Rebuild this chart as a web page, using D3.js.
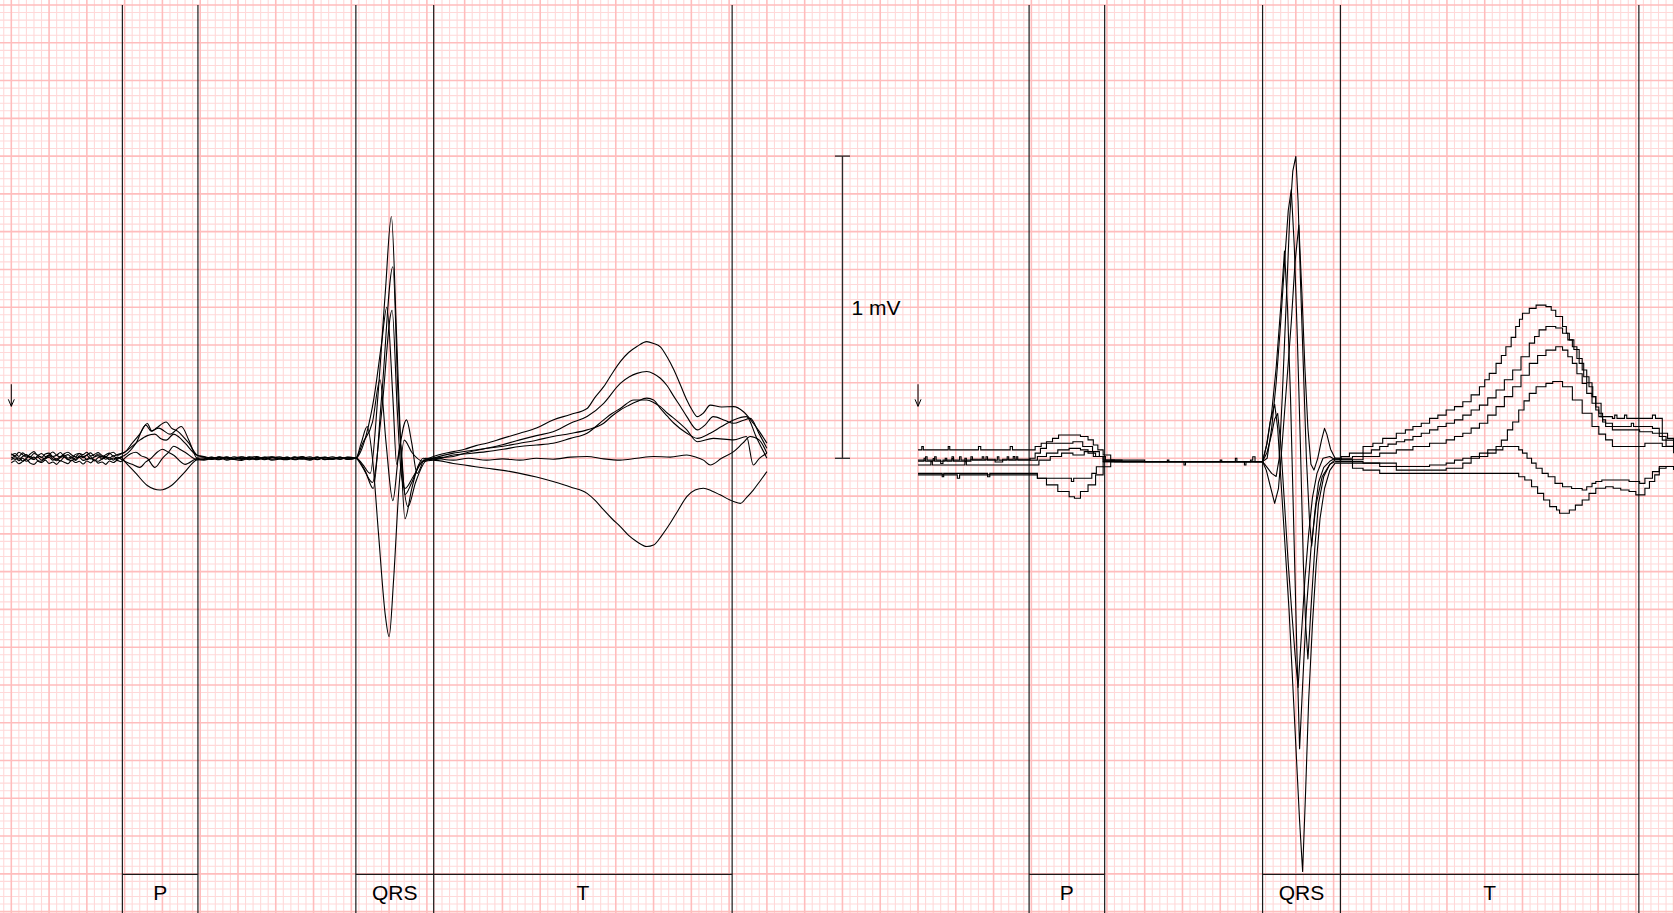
<!DOCTYPE html>
<html>
<head>
<meta charset="utf-8">
<script src="https://cdn.jsdelivr.net/npm/d3@7/dist/d3.min.js"></script>
<style>
  html, body { margin: 0; padding: 0; background: #fff; overflow: hidden; }
</style>
</head>
<body>
<div id="chart"></div>
<script>
// median beats, two panels on ecg paper (10 ms / 0.025 mV per small box)
const width = 1674, height = 913;

const panelShift = [0, 1200];          // ms where each panel starts on the paper
const waveLabels = ['P', 'QRS', 'T'];
const waveStart = [147, 456, 559];     // ms
const waveEnd = [247, 559, 954];
const calibAt = 1100;                  // ms, 1 mV bar
const calibMv = [0, 1];
const markerMv = [0.245, 0.172];       // small arrow above each panel start
const rightQrsSpan = [456, 552];       // fast part of the right recording, drawn straight

// left panel: [ms, mV]
const leftA = [[0,0.01],[5,0.016],[10,0.006],[15,0.018],[20,0.008],[25,0.004],[30,0.016],[35,0.01],[40,0.003],[45,0.014],[50,0.017],[55,0.006],[60,0.01],[65,0.019],[70,0.008],[75,0.012],[80,0.002],[85,0.013],[90,0.016],[95,0.006],[100,0.011],[105,0.018],[110,0.007],[115,0.014],[120,0.004],[125,0.012],[130,0.017],[135,0.008],[140,0.012],[145,0.016],
  [150,0.02],[160,0.05],[170,0.08],[180,0.115],[186,0.09],[192,0.1],[205,0.12],[212,0.1],[220,0.09],[228,0.07],[235,0.05],[246,0.01],
  [255,0.004],[265,-0.003],[275,0.005],[285,0.0],[295,-0.004],[305,0.004],[315,0.001],[325,-0.005],[335,0.003],[345,0.005],[355,-0.002],[365,-0.005],[375,0.003],[385,0.0],[395,0.005],[405,-0.004],[415,0.002],[425,-0.003],[435,0.004],[445,-0.002],[456,0.002],
  [465,-0.02],[475,-0.05],[485,0.2],[495,0.55],[503,0.8],[510,0.4],[516,0.0],[521,-0.2],[530,-0.1],[540,-0.02],[558,0.005],
  [585,0.022],[600,0.03],[615,0.042],[629,0.05],[650,0.066],[673,0.083],[695,0.1],[717,0.127],[740,0.145],[762,0.165],[772,0.2],[784,0.237],[795,0.28],[806,0.32],[817,0.35],[828,0.37],[841,0.386],[850,0.38],[859,0.369],[868,0.335],[877,0.292],[886,0.24],[894,0.193],[901,0.16],[908,0.138],[916,0.15],[925,0.176],[940,0.17],[956,0.171],[969,0.154],[982,0.116],[991,0.085],[1000,0.05]];
const leftB = [[0,-0.005],[5,0.002],[10,-0.008],[15,0.0],[20,-0.01],[25,-0.002],[30,0.004],[35,-0.007],[40,-0.01],[45,0.0],[50,0.003],[55,-0.006],[60,-0.002],[65,-0.009],[70,0.004],[75,-0.004],[80,-0.008],[85,0.002],[90,0.003],[95,-0.007],[100,-0.003],[105,0.005],[110,-0.006],[115,-0.01],[120,-0.002],[125,0.003],[130,-0.005],[135,0.001],[140,-0.004],[145,0.004],
  [150,0.01],[165,0.05],[178,0.11],[185,0.09],[195,0.1],[210,0.08],[225,0.105],[235,0.06],[246,0.0],
  [255,-0.004],[265,0.003],[275,-0.002],[285,0.005],[295,-0.003],[305,0.0],[315,-0.005],[325,0.003],[335,-0.002],[345,0.004],[355,0.0],[365,-0.004],[375,0.005],[385,-0.003],[395,0.002],[405,-0.005],[415,0.003],[425,0.0],[435,-0.004],[445,0.003],[456,0.0],
  [468,-0.04],[479,-0.1],[490,0.2],[505,0.634],[512,0.2],[518,-0.05],[525,-0.16],[535,-0.08],[548,-0.01],[558,0.0],
  [585,0.006],[605,0.02],[629,0.033],[650,0.045],[673,0.061],[695,0.075],[717,0.088],[740,0.116],[762,0.138],[784,0.182],[806,0.248],[818,0.27],[828,0.281],[841,0.287],[850,0.28],[859,0.265],[868,0.24],[877,0.204],[886,0.17],[894,0.138],[908,0.094],[918,0.11],[929,0.138],[945,0.125],[956,0.116],[968,0.125],[978,0.132],[990,0.08],[1000,0.033]];
const leftC = [[0,0.015],[5,0.008],[10,0.02],[15,0.012],[20,0.004],[25,0.014],[30,0.022],[35,0.01],[40,0.016],[45,0.006],[50,0.012],[55,0.021],[60,0.01],[65,0.004],[70,0.015],[75,0.02],[80,0.011],[85,0.005],[90,0.016],[95,0.012],[100,0.02],[105,0.008],[110,0.013],[115,0.019],[120,0.009],[125,0.005],[130,0.015],[135,0.02],[140,0.01],[145,0.014],
  [150,0.02],[160,0.04],[170,0.06],[180,0.075],[190,0.08],[198,0.065],[205,0.06],[215,0.08],[222,0.07],[230,0.05],[246,0.01],
  [255,0.006],[265,0.0],[275,0.004],[285,-0.003],[295,0.005],[305,-0.002],[315,0.003],[325,0.006],[335,-0.003],[345,0.002],[355,0.005],[365,-0.002],[375,0.001],[385,0.006],[395,-0.003],[405,0.003],[415,0.0],[425,0.005],[435,-0.002],[445,0.004],[456,0.0],
  [465,-0.03],[478,-0.08],[490,0.15],[504,0.49],[511,0.15],[516,-0.05],[521,-0.1],[532,-0.06],[545,-0.01],[558,0.0],
  [585,0.017],[607,0.025],[629,0.033],[651,0.04],[673,0.05],[695,0.06],[717,0.072],[740,0.082],[762,0.094],[784,0.116],[795,0.14],[806,0.16],[817,0.175],[828,0.188],[841,0.199],[850,0.193],[859,0.165],[868,0.14],[877,0.116],[894,0.083],[908,0.066],[925,0.083],[940,0.105],[956,0.127],[973,0.138],[986,0.07],[1000,0.0]];
const leftD = [[0,-0.015],[5,-0.008],[10,-0.018],[15,-0.011],[20,-0.004],[25,-0.016],[30,-0.02],[35,-0.01],[40,-0.014],[45,-0.006],[50,-0.017],[55,-0.012],[60,-0.02],[65,-0.008],[70,-0.013],[75,-0.018],[80,-0.006],[85,-0.014],[90,-0.01],[95,-0.019],[100,-0.009],[105,-0.015],[110,-0.005],[115,-0.016],[120,-0.012],[125,-0.02],[130,-0.009],[135,-0.014],[140,-0.007],[145,-0.011],
  [150,0.0],[158,0.015],[165,0.02],[172,0.008],[180,0.0],[190,-0.03],[200,0.0],[208,0.02],[215,0.04],[223,0.03],[230,0.02],[246,-0.005],
  [255,-0.006],[265,-0.001],[275,-0.005],[285,0.002],[295,-0.004],[305,-0.007],[315,0.0],[325,-0.004],[335,0.002],[345,-0.006],[355,-0.002],[365,0.003],[375,-0.005],[385,-0.001],[395,-0.006],[405,0.002],[415,-0.004],[425,-0.002],[435,0.003],[445,-0.004],[456,0.0],
  [462,0.02],[470,0.08],[480,0.2],[490,0.38],[497,0.5],[505,0.2],[510,-0.02],[515,0.05],[521,-0.12],[530,-0.08],[545,0.0],[558,-0.005],
  [585,0.011],[607,0.016],[629,0.022],[651,0.03],[673,0.039],[695,0.044],[717,0.05],[740,0.066],[762,0.083],[784,0.127],[795,0.148],[806,0.165],[824,0.193],[841,0.193],[850,0.185],[859,0.171],[868,0.15],[877,0.132],[894,0.094],[908,0.055],[929,0.066],[956,0.061],[973,0.072],[982,-0.022],[990,0.0],[1000,0.017]];
const leftE = [[0,0.005],[5,-0.004],[10,0.002],[15,-0.009],[20,0.0],[25,0.007],[30,-0.003],[35,0.004],[40,-0.006],[45,0.002],[50,0.008],[55,-0.002],[60,-0.008],[65,0.003],[70,0.006],[75,-0.005],[80,0.001],[85,-0.007],[90,0.004],[95,0.007],[100,-0.004],[105,0.0],[110,-0.009],[115,0.003],[120,0.006],[125,-0.003],[130,0.002],[135,-0.006],[140,0.004],[145,-0.002],
  [150,-0.01],[160,-0.02],[170,-0.03],[178,-0.012],[185,0.0],[193,0.02],[200,0.03],[208,0.02],[215,0.01],[230,-0.02],[246,0.0],
  [255,0.002],[265,-0.004],[275,0.003],[285,-0.006],[295,0.001],[305,0.005],[315,-0.003],[325,0.0],[335,-0.005],[345,0.003],[355,-0.001],[365,0.004],[375,-0.004],[385,0.002],[395,-0.002],[405,0.005],[415,-0.005],[425,0.001],[435,0.003],[445,-0.003],[456,0.0],
  [465,0.05],[478,0.12],[488,0.26],[496,0.05],[505,-0.14],[512,0.0],[523,0.127],[530,0.05],[537,-0.05],[548,0.0],[558,0.0],
  [585,-0.006],[605,0.0],[629,-0.006],[650,-0.002],[673,-0.006],[695,0.0],[717,-0.003],[740,0.004],[762,0.006],[784,-0.002],[806,-0.006],[828,0.0],[850,0.006],[872,0.004],[894,0.011],[906,0.004],[916,-0.006],[925,-0.022],[940,0.0],[956,0.022],[968,0.05],[978,0.072],[990,0.06],[1000,0.017]];
const leftF = [[0,0.0],[5,0.007],[10,-0.003],[15,0.006],[20,0.012],[25,0.001],[30,-0.004],[35,0.008],[40,0.003],[45,-0.002],[50,0.01],[55,0.004],[60,-0.003],[65,0.006],[70,0.011],[75,0.0],[80,0.005],[85,-0.004],[90,0.008],[95,0.002],[100,0.01],[105,-0.002],[110,0.004],[115,0.009],[120,-0.003],[125,0.006],[130,0.001],[135,0.008],[140,-0.001],[145,0.004],
  [150,-0.01],[165,-0.05],[180,-0.09],[197,-0.105],[212,-0.09],[228,-0.05],[246,-0.005],
  [255,-0.002],[265,0.004],[275,-0.004],[285,0.003],[295,0.0],[305,-0.004],[315,0.005],[325,-0.002],[335,0.004],[345,-0.003],[355,0.002],[365,0.0],[375,-0.003],[385,0.004],[395,-0.002],[405,0.001],[415,0.004],[425,-0.004],[435,0.002],[445,0.0],[456,0.0],
  [463,0.05],[471,0.105],[478,0.0],[486,-0.25],[495,-0.52],[500,-0.59],[506,-0.4],[513,-0.1],[520,0.06],[530,0.02],[545,-0.01],[558,-0.006],
  [585,-0.017],[607,-0.025],[629,-0.033],[651,-0.04],[673,-0.05],[695,-0.062],[717,-0.077],[740,-0.095],[762,-0.116],[773,-0.14],[784,-0.171],[795,-0.2],[806,-0.226],[817,-0.255],[828,-0.276],[841,-0.292],[850,-0.287],[861,-0.255],[872,-0.215],[883,-0.17],[894,-0.127],[905,-0.105],[916,-0.099],[927,-0.108],[938,-0.121],[956,-0.143],[965,-0.149],[973,-0.13],[982,-0.105],[991,-0.075],[1000,-0.044]];
const leftLeads = [leftA, leftB, leftC, leftD, leftE, leftF];

// right panel: quantised recording, [ms, mV]
const rightA = [[0,0.028],[5,0.039],[7,0.028],[40,0.039],[42,0.028],[80,0.039],[83,0.028],[122,0.039],[125,0.028],[148,0.028],[155,0.039],[163,0.05],[170,0.055],[178,0.066],[186,0.077],[215,0.072],[225,0.061],[232,0.044],[238,0.028],[245,0.011],[255,-0.006],[300,-0.011],
  [456,-0.011],[462,-0.03],[468,-0.05],[474,-0.06],[478,0.0],[482,0.2],[487,0.5],[492,0.8],[496,0.95],[500,0.999],[503,0.85],[506,0.6],[510,0.3],[514,0.0],[518,-0.2],[521,-0.29],[525,-0.18],[530,-0.08],[537,-0.03],[545,-0.01],[552,0.0],
  [560,0.006],[571,0.017],[589,0.039],[602,0.05],[615,0.066],[633,0.083],[645,0.094],[655,0.105],[666,0.116],[677,0.132],[688,0.143],[699,0.16],[710,0.171],[721,0.187],[732,0.21],[743,0.237],[750,0.26],[756,0.281],[765,0.314],[772,0.34],[778,0.369],[785,0.4],[791,0.436],[796,0.46],[800,0.48],[809,0.496],[818,0.507],[831,0.502],[838,0.49],[844,0.469],[853,0.436],[858,0.414],[862,0.392],[868,0.36],[875,0.314],[881,0.27],[888,0.237],[893,0.204],[897,0.182],[904,0.138],[919,0.132],[922,0.143],[925,0.132],[935,0.143],[938,0.132],[959,0.132],[972,0.143],[976,0.132],[985,0.083],[992,0.066],[1000,0.05]];
const rightB = [[0,-0.006],[10,0.005],[12,-0.006],[22,0.005],[24,-0.006],[30,-0.017],[33,-0.006],[45,0.005],[47,-0.006],[55,0.005],[57,-0.006],[70,0.005],[72,-0.006],[90,0.005],[92,-0.006],[105,0.005],[107,-0.006],[118,0.005],[120,-0.006],[130,0.005],[132,-0.006],[148,0.0],[155,0.017],[162,0.033],[170,0.05],[190,0.05],[205,0.055],[218,0.039],[231,0.022],[240,0.006],[248,-0.006],[270,-0.011],[330,-0.006],[332,-0.011],[400,-0.006],[402,-0.011],[420,0.0],[422,-0.011],[432,-0.022],[434,-0.011],[440,-0.006],[443,0.005],[446,-0.011],
  [456,-0.011],[462,0.0],[468,0.1],[474,0.25],[480,0.45],[486,0.68],[490,0.82],[494,0.889],[498,0.7],[502,0.4],[506,0.05],[510,-0.35],[513,-0.55],[516,-0.664],[520,-0.5],[525,-0.3],[530,-0.15],[537,-0.06],[545,-0.02],[552,-0.005],
  [560,0.0],[575,0.006],[589,0.017],[600,0.028],[611,0.039],[622,0.047],[633,0.055],[644,0.061],[655,0.072],[666,0.083],[677,0.094],[688,0.105],[699,0.116],[710,0.127],[721,0.143],[732,0.16],[743,0.176],[754,0.2],[765,0.226],[776,0.26],[787,0.292],[798,0.336],[809,0.381],[816,0.403],[822,0.425],[831,0.436],[844,0.431],[853,0.414],[860,0.392],[866,0.369],[872,0.33],[879,0.292],[885,0.25],[892,0.204],[897,0.17],[901,0.149],[906,0.127],[910,0.116],[919,0.105],[941,0.105],[944,0.116],[947,0.105],[959,0.105],[972,0.099],[981,0.072],[990,0.04],[1000,0.017]];
const rightC = [[0,-0.01],[8,0.0],[10,-0.01],[20,-0.001],[22,-0.01],[36,0.0],[38,-0.01],[45,-0.001],[47,-0.01],[62,0.0],[64,-0.01],[70,-0.003],[85,0.005],[87,-0.003],[100,-0.003],[102,-0.012],[112,-0.003],[126,0.006],[128,-0.003],[140,-0.003],[148,-0.006],[158,0.006],[170,0.017],[185,0.028],[200,0.033],[215,0.028],[225,0.017],[235,0.006],[245,-0.006],[260,-0.011],[350,-0.011],[352,-0.022],[354,-0.011],
  [456,-0.011],[461,-0.04],[466,-0.09],[472,-0.149],[477,-0.1],[482,0.05],[488,0.25],[494,0.45],[499,0.65],[504,0.772],[508,0.55],[512,0.3],[516,0.1],[520,-0.02],[524,-0.039],[529,0.0],[534,0.06],[538,0.099],[541,0.08],[546,0.03],[552,0.0],[558,-0.005],
  [560,-0.005],[589,0.006],[611,0.017],[633,0.028],[655,0.039],[677,0.05],[699,0.061],[710,0.072],[721,0.083],[732,0.1],[743,0.116],[754,0.143],[765,0.171],[776,0.204],[787,0.237],[798,0.275],[809,0.314],[820,0.34],[831,0.358],[844,0.369],[853,0.358],[860,0.336],[866,0.314],[872,0.28],[879,0.248],[885,0.215],[892,0.182],[897,0.16],[901,0.138],[906,0.12],[910,0.105],[919,0.094],[955,0.088],[972,0.083],[985,0.06],[1000,0.028]];
const rightD = [[0,-0.022],[15,-0.022],[17,-0.011],[19,-0.022],[60,-0.022],[62,-0.011],[64,-0.022],[148,-0.022],[160,-0.006],[175,0.006],[190,0.017],[205,0.011],[220,0.022],[232,0.006],[245,-0.011],[260,-0.011],
  [456,-0.011],[462,0.05],[468,0.15],[474,0.3],[480,0.5],[485,0.686],[489,0.5],[493,0.2],[497,-0.2],[501,-0.6],[505,-0.961],[509,-0.75],[514,-0.5],[520,-0.3],[527,-0.15],[535,-0.06],[545,-0.02],[552,-0.011],
  [560,-0.011],[589,-0.016],[633,-0.027],[677,-0.022],[699,-0.016],[710,-0.006],[721,0.0],[732,0.006],[743,0.017],[754,0.028],[765,0.039],[772,0.06],[780,0.094],[787,0.12],[795,0.16],[802,0.19],[809,0.215],[818,0.237],[831,0.248],[840,0.254],[853,0.237],[866,0.193],[879,0.149],[892,0.105],[901,0.08],[910,0.061],[919,0.039],[955,0.039],[962,0.05],[985,0.039],[1000,0.05]];
const rightE = [[0,-0.05],[30,-0.05],[32,-0.061],[34,-0.05],[90,-0.05],[92,-0.061],[95,-0.05],[148,-0.05],[158,-0.066],[200,-0.066],[203,-0.077],[206,-0.066],[223,-0.066],[230,-0.05],[236,-0.028],[245,-0.011],[260,-0.011],
  [456,-0.011],[462,0.02],[468,0.08],[472,0.13],[476,0.148],[480,0.05],[485,-0.15],[490,-0.35],[495,-0.52],[499,-0.65],[503,-0.758],[507,-0.6],[512,-0.4],[517,-0.25],[522,-0.13],[528,-0.05],[536,0.0],[545,0.006],[552,-0.005],
  [560,-0.005],[575,-0.016],[589,-0.016],[611,-0.027],[633,-0.039],[655,-0.039],[699,-0.033],[721,-0.016],[732,0.0],[743,0.006],[754,0.017],[765,0.028],[774,0.039],[787,0.039],[795,0.028],[800,0.017],[806,0.0],[812,-0.016],[818,-0.033],[826,-0.05],[834,-0.061],[843,-0.083],[853,-0.094],[865,-0.1],[879,-0.105],[885,-0.094],[892,-0.083],[897,-0.077],[905,-0.072],[941,-0.077],[955,-0.083],[962,-0.066],[972,-0.044],[981,-0.027],[1000,-0.039]];
const rightF = [[0,-0.055],[50,-0.055],[52,-0.066],[55,-0.055],[148,-0.055],[158,-0.066],[170,-0.088],[185,-0.11],[200,-0.127],[207,-0.132],[215,-0.11],[225,-0.088],[235,-0.055],[245,-0.028],[255,-0.011],
  [456,-0.011],[461,0.04],[466,0.12],[472,0.179],[476,0.1],[481,-0.1],[486,-0.3],[491,-0.5],[496,-0.75],[501,-1.0],[505,-1.2],[509,-1.367],[513,-1.1],[517,-0.8],[522,-0.55],[527,-0.35],[532,-0.2],[538,-0.1],[545,-0.04],[552,-0.016],
  [560,-0.016],[575,-0.033],[589,-0.039],[611,-0.05],[787,-0.05],[795,-0.061],[803,-0.072],[812,-0.094],[820,-0.116],[828,-0.138],[836,-0.16],[845,-0.171],[849,-0.182],[857,-0.182],[862,-0.171],[870,-0.155],[879,-0.138],[888,-0.116],[897,-0.099],[910,-0.094],[920,-0.099],[930,-0.105],[941,-0.11],[950,-0.121],[957,-0.121],[962,-0.099],[968,-0.077],[975,-0.055],[981,-0.033],[990,-0.027],[1000,-0.027]];
const rightLeads = [rightA, rightB, rightC, rightD, rightE, rightF];

const pxPerMs = 0.7556;
const x = d3.scaleLinear().domain([0, 2200]).range([11.3, 11.3 + 2200 * pxPerMs]);
const y = d3.scaleLinear().domain([0, 1]).range([458.3, 156.1]);

const svg = d3.create('svg')
  .attr('width', width)
  .attr('height', height)
  .attr('viewBox', `0 0 ${width} ${height}`)
  .style('display', 'block')
  .style('font-family', '"Liberation Sans", Arial, sans-serif');

svg.append('rect').attr('width', width).attr('height', height).attr('fill', '#fff');

// paper grid
const gxs = d3.range(-2, 222).map(k => ({v: k * 10, major: k % 5 === 0}));
const gys = d3.range(-61, 62).map(k => ({v: k * 0.025, major: k % 5 === 0}));
const grid = svg.append('g');
[false, true].forEach(maj => {
  grid.append('g')
    .attr('stroke', maj ? '#ffbdbd' : '#ffd9d9')
    .attr('stroke-width', maj ? 1.6 : 1.1)
    .call(g => g.selectAll('line.v').data(gxs.filter(d => d.major === maj)).join('line')
      .attr('x1', d => x(d.v)).attr('x2', d => x(d.v)).attr('y1', 0).attr('y2', height))
    .call(g => g.selectAll('line.h').data(gys.filter(d => d.major === maj)).join('line')
      .attr('y1', d => y(d.v)).attr('y2', d => y(d.v)).attr('x1', 0).attr('x2', width));
});

// wave boundaries + label boxes
const labelTop = 874.3;
panelShift.forEach(s => {
  const bounds = Array.from(new Set(waveStart.concat(waveEnd)));
  svg.append('g').attr('stroke', '#1a1a1a').attr('stroke-width', 1.2)
    .selectAll('line').data(bounds).join('line')
    .attr('x1', d => x(d + s)).attr('x2', d => x(d + s))
    .attr('y1', y(1.5)).attr('y2', height);

  const box = svg.append('g').selectAll('g').data(waveLabels).join('g');
  box.append('line')
    .attr('x1', (d, i) => x(waveStart[i] + s)).attr('x2', (d, i) => x(waveEnd[i] + s))
    .attr('y1', labelTop).attr('y2', labelTop)
    .attr('stroke', '#1a1a1a').attr('stroke-width', 1.2);
  box.append('text')
    .attr('x', (d, i) => x((waveStart[i] + waveEnd[i]) / 2 + s))
    .attr('y', 900)
    .attr('text-anchor', 'middle')
    .attr('font-size', 21)
    .attr('fill', '#000')
    .text(d => d);

  // start marker arrow
  const ax = x(s), a0 = y(markerMv[0]), a1 = y(markerMv[1]);
  svg.append('path')
    .attr('d', `M${ax},${a0}L${ax},${a1}M${ax - 3},${a1 - 7}L${ax},${a1}L${ax + 3},${a1 - 7}`)
    .attr('fill', 'none').attr('stroke', '#000').attr('stroke-width', 1);
});

// traces
const lineL = d3.line()
  .x(d => x(d[0] + panelShift[0])).y(d => y(d[1]))
  .curve(d3.curveMonotoneX);
const inQrs = d => d[0] >= rightQrsSpan[0] && d[0] <= rightQrsSpan[1];
const stepR = d3.line()
  .defined(d => d[0] <= rightQrsSpan[0] || d[0] >= rightQrsSpan[1])
  .x(d => x(d[0] + panelShift[1])).y(d => y(d[1]))
  .curve(d3.curveStepAfter);
const fastR = d3.line()
  .defined(inQrs)
  .x(d => x(d[0] + panelShift[1])).y(d => y(d[1]))
  .curve(d3.curveLinear);

svg.append('g').selectAll('path').data(leftLeads).join('path')
  .attr('d', lineL).attr('fill', 'none').attr('stroke', '#000').attr('stroke-width', 1.1)
  .attr('stroke-linejoin', 'round');
const rg = svg.append('g').attr('fill', 'none').attr('stroke', '#000').attr('stroke-width', 1.1);
rg.selectAll('path.s').data(rightLeads).join('path').attr('class', 's').attr('d', stepR);
rg.selectAll('path.q').data(rightLeads).join('path').attr('class', 'q').attr('d', fastR)
  .attr('stroke-linejoin', 'round');

// calibration bar
const cb = svg.append('g').attr('stroke', '#2a2a2a').attr('stroke-width', 1.3);
cb.append('line').attr('x1', x(calibAt)).attr('x2', x(calibAt)).attr('y1', y(calibMv[0])).attr('y2', y(calibMv[1]));
cb.selectAll('line.t').data(calibMv).join('line')
  .attr('x1', x(calibAt - 10)).attr('x2', x(calibAt + 10))
  .attr('y1', d => y(d)).attr('y2', d => y(d));
svg.append('text')
  .attr('x', x(calibAt) + 9).attr('y', y(0.5)).attr('dy', '0.36em')
  .attr('font-size', 21).attr('fill', '#000')
  .text('1 mV');

document.getElementById('chart').append(svg.node());
</script>
</body>
</html>
